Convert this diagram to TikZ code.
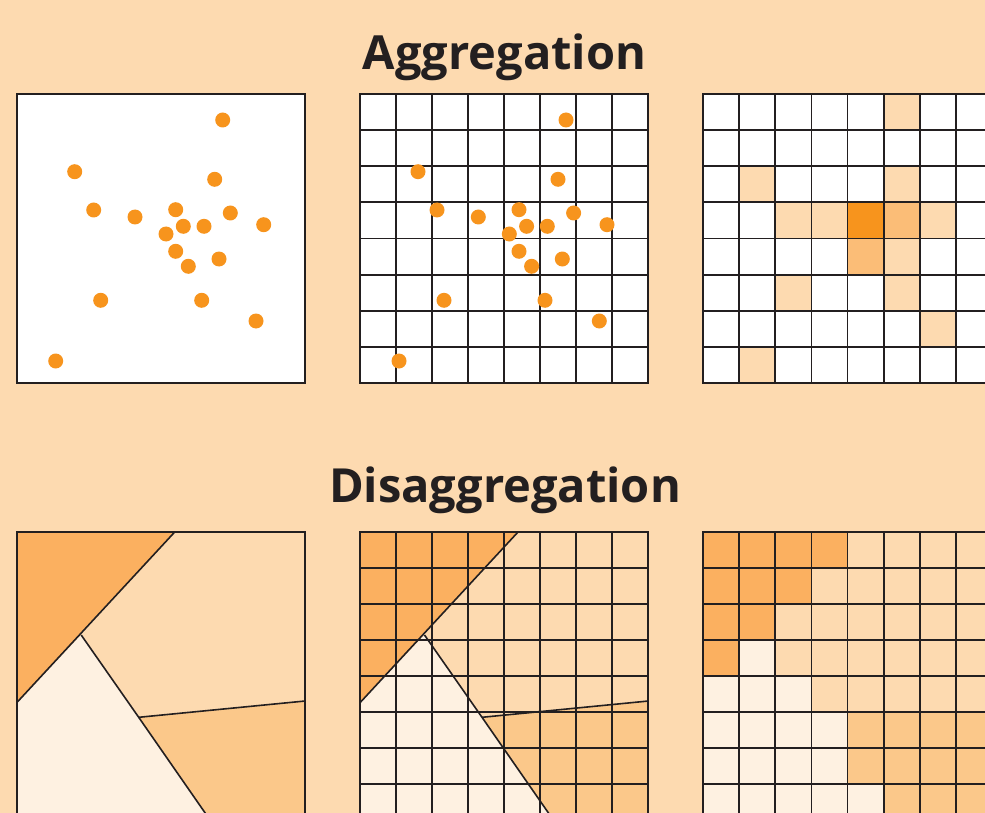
\documentclass[tikz,border=0pt]{standalone}
\usepackage{fontspec}
\setmainfont{PT Sans}
\newfontfamily\titlefont{Open Sans}
\definecolor{bgc}{HTML}{FDDAB0}
\definecolor{dotc}{HTML}{F7941D}
\definecolor{aggmed}{HTML}{FBBD77}
\definecolor{dagdark}{HTML}{FBB060}
\definecolor{dagmed}{HTML}{FBC88A}
\definecolor{cream}{HTML}{FEF1E1}
\definecolor{ink}{HTML}{231F20}
\tikzset{
  gridline/.style={ink, line width=1.9pt},
  frame/.style={ink, line width=1.9pt},
  edge/.style={ink, line width=1.6pt},
  dotmark/.style={fill=dotc},
  title/.style={font=\titlefont\bfseries\fontsize{47}{50}\selectfont, text=ink, anchor=base, inner sep=0pt}
}
\newcommand{\PS}{288.4}
\newcommand{\PC}{36.05}
\newcommand{\dotset}{%
  \foreach \px/\py in {206.0/25.7,58.0/77.4,198.0/85.0,77.0/115.7,118.3/122.7,159.0/115.4,213.6/118.7,166.6/132.0,187.3/132.0,247.0/130.4,149.3/139.7,159.0/157.0,171.6/172.0,202.3/164.7,84.0/206.0,185.0/206.0,239.3/226.7,39.0/266.7}
    {\fill[dotmark] (\px,\py) circle (7.5);}}
\newcommand{\gridlines}{%
  \foreach \k in {1,...,7} {
    \draw[gridline] (\k*\PC,0) -- (\k*\PC,\PS);
    \draw[gridline] (0,\k*\PC) -- (\PS,\k*\PC);
  }
  \draw[frame] (0,0) rectangle (\PS,\PS);}
\newcommand{\regions}{%
  \coordinate (A) at (158.3,0);
  \coordinate (B) at (0,171);
  \coordinate (J) at (64.5,103.3);
  \coordinate (K) at (122,185.6);
  \coordinate (R) at (\PS,169.3);
  \coordinate (E) at (193.4,\PS);
  \fill[dagdark] (0,0) -- (A) -- (B) -- cycle;
  \fill[bgc] (A) -- (\PS,0) -- (R) -- (K) -- (J) -- cycle;
  \fill[dagmed] (K) -- (R) -- (\PS,\PS) -- (E) -- cycle;
  \fill[cream] (B) -- (J) -- (K) -- (E) -- (0,\PS) -- cycle;}
\newcommand{\regionlines}{%
  \draw[edge] (A) -- (B);
  \draw[edge] (J) -- (K) -- (E);
  \draw[edge] (K) -- (R);}
\begin{document}
\begin{tikzpicture}[x=1pt,y=-1pt]
\useasboundingbox (0,0) rectangle (985,813);
\clip (0,0) rectangle (985,813);
\fill[bgc] (0,0) rectangle (985,813);

\node[title] (t1) at (504.5,69.3) {Aggregation};
\node[title] (t2) at (505,502.3) {Disaggregation};

% Panel 1: points
\begin{scope}[shift={(16.7,94.3)}]
  \fill[white] (0,0) rectangle (\PS,\PS);
  \dotset
  \draw[frame] (0,0) rectangle (\PS,\PS);
\end{scope}

% Panel 2: points over grid
\begin{scope}[shift={(360,94.3)}]
  \fill[white] (0,0) rectangle (\PS,\PS);
  \gridlines
  \dotset
\end{scope}

% Panel 3: aggregated counts
\begin{scope}[shift={(703.3,94.3)}]
  \fill[white] (0,0) rectangle (\PS,\PS);
  \foreach \c/\r in {5/0,1/2,5/2,2/3,3/3,6/3,5/4,2/5,5/5,6/6,1/7}
    \fill[bgc] (\c*\PC,\r*\PC) rectangle ++(\PC,\PC);
  \foreach \c/\r in {5/3,4/4}
    \fill[aggmed] (\c*\PC,\r*\PC) rectangle ++(\PC,\PC);
  \fill[dotc] (4*\PC,3*\PC) rectangle ++(\PC,\PC);
  \gridlines
\end{scope}

% Panel 4: polygons
\begin{scope}[shift={(16.7,531.7)}]
  \regions
  \regionlines
  \draw[frame] (0,0) rectangle (\PS,\PS);
\end{scope}

% Panel 5: polygons with grid
\begin{scope}[shift={(360,531.7)}]
  \regions
  \gridlines
  \regionlines
\end{scope}

% Panel 6: disaggregated cells
\begin{scope}[shift={(703.3,531.7)}]
  \fill[bgc] (0,0) rectangle (\PS,\PS);
  \foreach \c/\r in {0/0,1/0,2/0,3/0,0/1,1/1,2/1,0/2,1/2,0/3}
    \fill[dagdark] (\c*\PC,\r*\PC) rectangle ++(\PC,\PC);
  \foreach \c/\r in {1/3,0/4,1/4,2/4,0/5,1/5,2/5,3/5,0/6,1/6,2/6,3/6,0/7,1/7,2/7,3/7,4/7}
    \fill[cream] (\c*\PC,\r*\PC) rectangle ++(\PC,\PC);
  \foreach \c/\r in {4/5,5/5,6/5,7/5,4/6,5/6,6/6,7/6,5/7,6/7,7/7}
    \fill[dagmed] (\c*\PC,\r*\PC) rectangle ++(\PC,\PC);
  \gridlines
\end{scope}
\end{tikzpicture}
\end{document}
